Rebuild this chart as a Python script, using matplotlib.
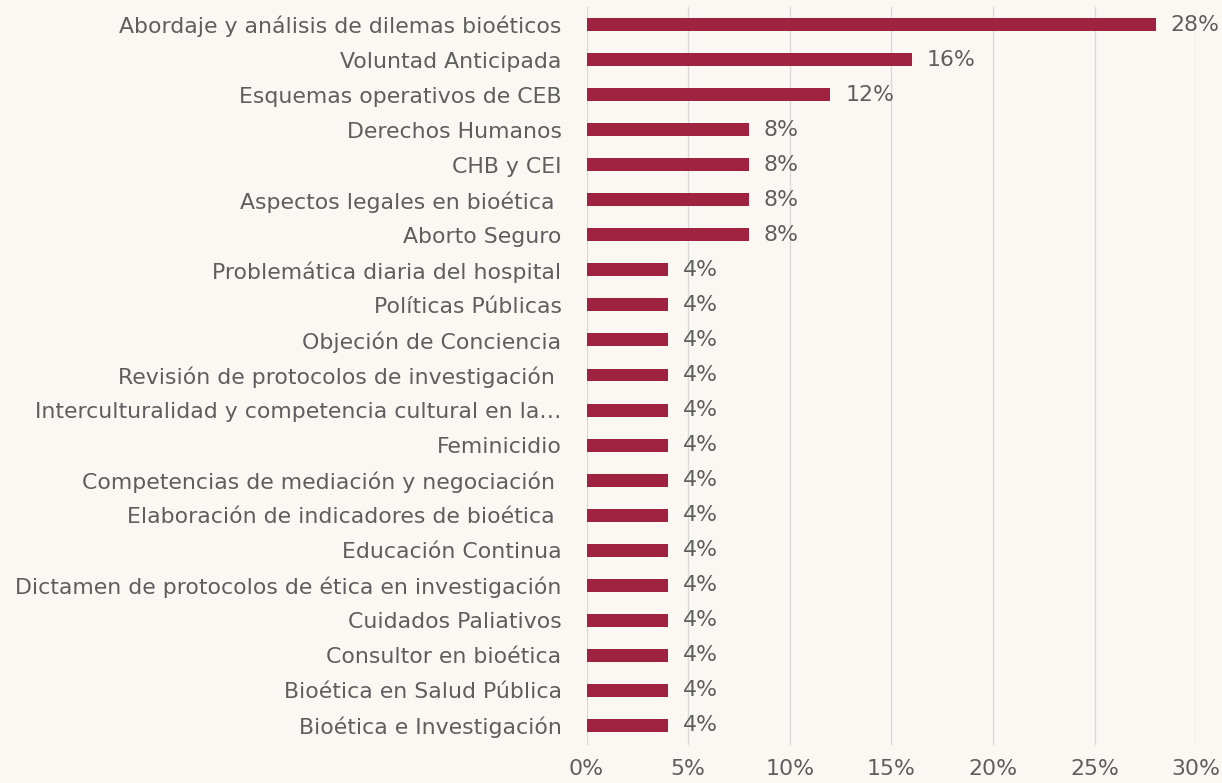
import matplotlib.pyplot as plt
import numpy as np

# categories listed top to bottom as in the chart
categorias = [
    "Abordaje y análisis de dilemas bioéticos",
    "Voluntad Anticipada",
    "Esquemas operativos de CEB",
    "Derechos Humanos",
    "CHB y CEI",
    "Aspectos legales en bioética ",
    "Aborto Seguro",
    "Problemática diaria del hospital",
    "Políticas Públicas",
    "Objeción de Conciencia",
    "Revisión de protocolos de investigación ",
    "Interculturalidad y competencia cultural en la…",
    "Feminicidio",
    "Competencias de mediación y negociación ",
    "Elaboración de indicadores de bioética ",
    "Educación Continua",
    "Dictamen de protocolos de ética en investigación",
    "Cuidados Paliativos",
    "Consultor en bioética",
    "Bioética en Salud Pública",
    "Bioética e Investigación",
]
porcentajes = [28, 16, 12, 8, 8, 8, 8, 4, 4, 4, 4, 4, 4, 4, 4, 4, 4, 4, 4, 4, 4]

ticks_x = [0, 5, 10, 15, 20, 25, 30]

color_barra = "#9F2241"
color_texto = "#5E5E5E"

plt.rcParams['font.family'] = ['DejaVu Sans']

fig = plt.figure(figsize=(12.22, 7.83), dpi=100, facecolor="#FBF8F4")
ax = fig.add_axes([0.480, 0.048, 0.499, 0.943])
ax.set_facecolor("none")

n = len(categorias)
y = np.arange(n)[::-1]
ax.barh(y, porcentajes, height=0.37, color=color_barra, zorder=3)

fs = 15.8
for yi, v in zip(y, porcentajes):
    ax.text(v + 0.72, yi, f"{v}%", va="center", ha="left",
            fontsize=fs, color=color_texto)

ax.set_yticks(y)
ax.set_yticklabels(categorias, fontsize=fs, color=color_texto)
ax.set_xticks(ticks_x)
ax.set_xticklabels([f"{t}%" for t in ticks_x], fontsize=fs, color=color_texto)
ax.set_xlim(0, 30)
ax.set_ylim(-0.57, n - 0.5)

ax.grid(axis="x", color="#D9D9D9", linewidth=1, zorder=0)
ax.tick_params(axis="y", length=0, pad=18)
ax.tick_params(axis="x", length=0, pad=10)
for s in ax.spines.values():
    s.set_visible(False)

fig.savefig("out.png", dpi=100, facecolor=fig.get_facecolor())
